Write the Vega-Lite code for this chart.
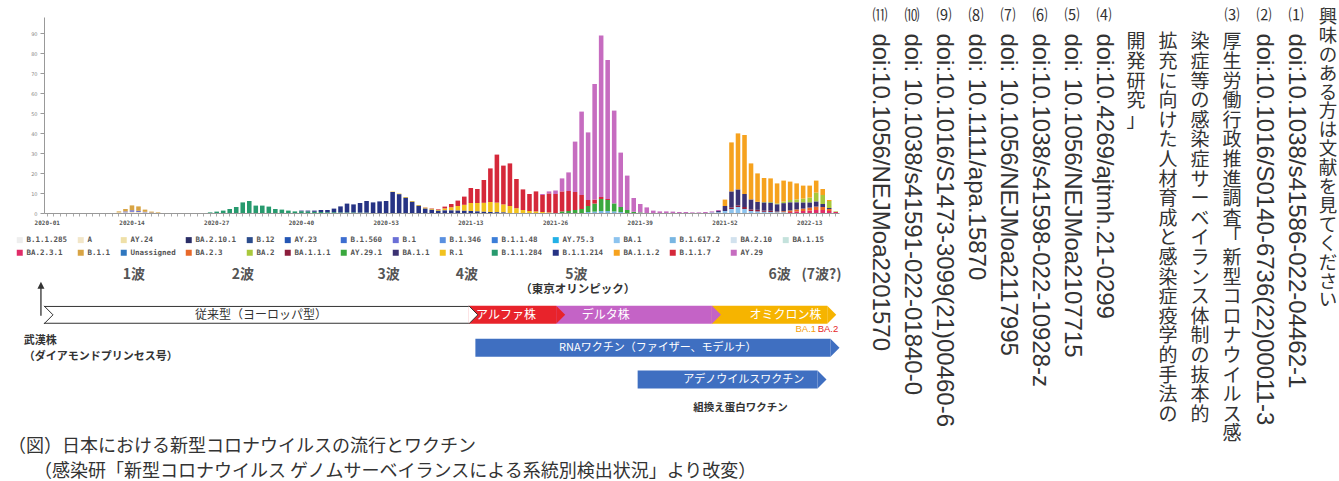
{
  "$schema": "https://vega.github.io/schema/vega-lite/v6.json",
  "background": "white",
  "padding": {"left": 8, "top": 5, "right": 0, "bottom": 0},
  "config": {"view": {"stroke": null}, "font": "Noto Sans CJK JP"},
  "datasets": {
    "weeks": [
      {"w":"2020-01","A":0},{"w":"2020-02","A":0},{"w":"2020-03","A":0},{"w":"2020-04","A":0},{"w":"2020-05","A":0},{"w":"2020-06","A":0},{"w":"2020-07","A":0},{"w":"2020-08","A":0},{"w":"2020-09","A":0},{"w":"2020-10","A":0},{"w":"2020-11","A":0},
      {"w":"2020-12","A":0.3,"B.1.1":0.5},
      {"w":"2020-13","A":0.3,"B.1":0.5,"B.1.1":1.2},
      {"w":"2020-14","A":0.6,"B.1":0.8,"B.1.1":2.4},
      {"w":"2020-15","A":0.5,"B.1":0.6,"B.1.1":2.2},
      {"w":"2020-16","A":0.3,"B.1":0.3,"B.1.1":1.1},
      {"w":"2020-17","B.1":0.2,"B.1.1":0.5},
      {"w":"2020-18","B.1.1":0.3},
      {"w":"2020-19","A":0},{"w":"2020-20","A":0},{"w":"2020-21","A":0},{"w":"2020-22","A":0},{"w":"2020-23","A":0},{"w":"2020-24","A":0},{"w":"2020-25","A":0},
      {"w":"2020-26","B.1.1.284":0.3},
      {"w":"2020-27","B.1.1.284":0.7},
      {"w":"2020-28","B.1.1.284":1.2},
      {"w":"2020-29","B.1.1.284":2.0},
      {"w":"2020-30","B.1.1.284":3.0},
      {"w":"2020-31","B.1.1.284":5.3},
      {"w":"2020-32","B.1.1.284":6.0},
      {"w":"2020-33","B.1.1.284":3.7},
      {"w":"2020-34","B.1.1.284":3.7},
      {"w":"2020-35","B.1.1.284":3.2},
      {"w":"2020-36","B.1.1.284":2.0},
      {"w":"2020-37","B.1.1.284":1.7},
      {"w":"2020-38","B.1.1.284":1.2},
      {"w":"2020-39","B.1.1.284":0.8},
      {"w":"2020-40","B.1.1.284":0.9,"B.1.1.214":0.3},
      {"w":"2020-41","B.1.1.284":0.8,"B.1.1.214":0.4},
      {"w":"2020-42","B.1.1.284":0.6,"B.1.1.214":0.6},
      {"w":"2020-43","B.1.1.284":0.5,"B.1.1.214":1.0},
      {"w":"2020-44","B.1.1.284":0.4,"B.1.1.214":1.1},
      {"w":"2020-45","B.1.1.284":0.4,"B.1.1.214":1.8},
      {"w":"2020-46","B.1.1.284":0.3,"B.1.1.214":3.0},
      {"w":"2020-47","B.1.1.284":0.3,"B.1.1.214":4.4},
      {"w":"2020-48","B.1.1.284":0.3,"B.1.1.214":4.0},
      {"w":"2020-49","B.1.1.284":0.2,"B.1.1.214":4.8},
      {"w":"2020-50","B.1.1.284":0.2,"B.1.1.214":5.8},
      {"w":"2020-51","B.1.1.214":5.3},
      {"w":"2020-52","B.1.1.214":5.8},
      {"w":"2020-53","B.1.1.214":6.0},
      {"w":"2021-01","B.1.1.214":10.5,"R.1":0.2},
      {"w":"2021-02","B.1.1.214":9.4,"R.1":0.3},
      {"w":"2021-03","B.1.1.214":7.6,"R.1":0.4},
      {"w":"2021-04","B.1.1.214":5.6,"R.1":0.4},
      {"w":"2021-05","B.1.1.214":3.6,"R.1":0.4},
      {"w":"2021-06","B.1.1.214":2.2,"R.1":0.5,"B.1.1.7":0.1},
      {"w":"2021-07","B.1.1.214":1.6,"R.1":0.5,"B.1.1.7":0.2},
      {"w":"2021-08","B.1.1.214":1.1,"R.1":0.5,"B.1.1.7":0.3},
      {"w":"2021-09","B.1.1.214":1.3,"R.1":1.0,"B.1.1.7":0.9},
      {"w":"2021-10","B.1.1.214":1.3,"R.1":1.6,"B.1.1.7":1.6},
      {"w":"2021-11","B.1.1.214":1.2,"R.1":2.3,"B.1.1.7":2.7},
      {"w":"2021-12","B.1.1.214":1.1,"R.1":3.0,"B.1.1.7":4.1},
      {"w":"2021-13","B.1.1.214":1.0,"R.1":4.0,"B.1.1.7":7.5},
      {"w":"2021-14","B.1.1.214":0.8,"R.1":4.2,"B.1.1.7":7.0},
      {"w":"2021-15","B.1.1.214":0.6,"R.1":4.5,"B.1.1.7":11.4},
      {"w":"2021-16","B.1.1.214":0.5,"R.1":5.0,"B.1.1.7":16.8},
      {"w":"2021-17","B.1.1.214":0.4,"R.1":4.8,"B.1.1.7":24.0},
      {"w":"2021-18","B.1.1.214":0.3,"R.1":4.0,"B.1.1.7":19.4},
      {"w":"2021-19","R.1":3.5,"B.1.1.7":21.3},
      {"w":"2021-20","R.1":2.4,"B.1.1.7":14.6},
      {"w":"2021-21","R.1":1.5,"B.1.1.7":10.3},
      {"w":"2021-22","R.1":1.0,"B.1.1.7":8.5},
      {"w":"2021-23","R.1":0.8,"B.1.1.7":10.0},
      {"w":"2021-24","R.1":0.5,"B.1.1.7":8.5,"AY.29":0.5},
      {"w":"2021-25","R.1":0.3,"B.1.1.7":9.5,"AY.29":1.0},
      {"w":"2021-26","B.1.1.7":9.5,"AY.29":1.7},
      {"w":"2021-27","B.1.1.7":10,"AY.29.1":0.8,"AY.29":6.5},
      {"w":"2021-28","B.1.1.7":10,"AY.29.1":1.0,"AY.29":9.3},
      {"w":"2021-29","B.1.1.7":9,"AY.29.1":1.5,"AY.29":25.2},
      {"w":"2021-30","B.1.1.7":7,"AY.29.1":2,"AY.29":41.7},
      {"w":"2021-31","B.1.1.7":3,"AY.29.1":3,"B.1.617.2":0.5,"AY.29":33.8},
      {"w":"2021-32","B.1.1.7":2,"AY.29.1":4,"B.1.617.2":0.7,"AY.29":57.8},
      {"w":"2021-33","B.1.1.7":1,"AY.29.1":6,"B.1.617.2":1,"AY.29":80.7},
      {"w":"2021-34","B.1.1.7":0.5,"AY.29.1":5.5,"B.1.617.2":1,"AY.29":69.5},
      {"w":"2021-35","AY.29.1":4,"B.1.617.2":0.8,"AY.29":46.4},
      {"w":"2021-36","AY.29.1":2.5,"B.1.617.2":0.5,"AY.29":27.2},
      {"w":"2021-37","AY.29.1":1.5,"AY.29":17.2},
      {"w":"2021-38","AY.29.1":0.6,"AY.29":6.9},
      {"w":"2021-39","AY.29.1":0.3,"AY.29":4.2},
      {"w":"2021-40","AY.29":2.8},
      {"w":"2021-41","AY.29":1.2},
      {"w":"2021-42","AY.29":0.8},
      {"w":"2021-43","AY.29":0.8},
      {"w":"2021-44","AY.29":0.7},
      {"w":"2021-45","AY.29":0.5},
      {"w":"2021-46","AY.29":0.5},
      {"w":"2021-47","AY.29":0.3},
      {"w":"2021-48","AY.29":0.3},
      {"w":"2021-49","AY.29":0.5},
      {"w":"2021-50","AY.29":0.5,"BA.1":0.3},
      {"w":"2021-51","AY.29":0.5,"BA.1":0.4,"BA.1.1":0.6},
      {"w":"2021-52","BA.1":1,"BA.1.1":2.5,"BA.1.1.2":3.2},
      {"w":"2022-01","BA.1":2,"BA.1.1":8,"BA.1.1.1":0.8,"BA.1.1.2":24.5},
      {"w":"2022-02","BA.1":3,"BA.1.1":8,"BA.1.1.1":0.8,"BA.1.1.2":28},
      {"w":"2022-03","BA.1":2,"BA.1.1":6.5,"BA.1.1.1":1,"BA.1.1.2":29.5},
      {"w":"2022-04","BA.1":1,"BA.1.1":5,"BA.1.1.1":0.8,"BA.1.1.2":18},
      {"w":"2022-05","BA.1":0.8,"BA.1.1":4,"BA.1.1.1":0.8,"BA.1.1.2":14.2},
      {"w":"2022-06","BA.1":0.6,"BA.1.1":4,"BA.1.1.1":0.6,"BA.2":0.3,"BA.1.1.2":12},
      {"w":"2022-07","BA.1":0.5,"BA.1.1":4,"BA.1.1.1":0.6,"BA.2":0.4,"BA.1.1.2":11.8},
      {"w":"2022-08","BA.1":0.4,"BA.1.1":3.6,"BA.2":0.5,"BA.2.3":0.3,"BA.1.1.2":10},
      {"w":"2022-09","BA.1":0.4,"BA.1.1":4,"BA.2":0.8,"BA.2.3":0.5,"BA.1.1.2":10.5},
      {"w":"2022-10","BA.1.1":4,"BA.2":1.2,"BA.2.3":0.8,"BA.2.3.1":0.5,"BA.1.1.2":9.2},
      {"w":"2022-11","BA.1.1":3.5,"BA.2":1.5,"BA.2.3":1,"BA.2.3.1":0.8,"BA.1.1.2":8},
      {"w":"2022-12","BA.1.1":3,"BA.2":2,"BA.2.3":1.2,"BA.2.3.1":1,"BA.1.1.2":6.5},
      {"w":"2022-13","BA.1.1":2.5,"BA.2":2.5,"BA.2.3":1.5,"BA.2.3.1":1.2,"BA.1.1.2":6},
      {"w":"2022-14","BA.1.1":2.5,"BA.2":4.5,"BA.2.3":1.7,"BA.2.3.1":1.5,"BA.1.1.2":6},
      {"w":"2022-15","BA.1.1":1.5,"BA.2":4.5,"BA.2.3":1.5,"BA.2.3.1":1.5,"BA.1.1.2":3},
      {"w":"2022-16","BA.1.1":0.5,"BA.2":3.5,"BA.2.3":1,"BA.2.3.1":1,"BA.1.1.2":0.5},
      {"w":"2022-17","BA.2.3.1":0.5,"BA.2":0.3}
    ],
    "labels": [
      {"kind":"wave","t":"1波","wk":14.3},
      {"kind":"wave","t":"2波","wk":31},
      {"kind":"wave","t":"3波","wk":53.4},
      {"kind":"wave","t":"4波","wk":65.4},
      {"kind":"wave","t":"5波","wk":82.2},
      {"kind":"wave","t":"6波","wk":113.4},
      {"kind":"wave","t":"(7波?)","wk":119.8},
      {"kind":"olympic","t":"（東京オリンピック）","wk":82.4},
      {"kind":"marker","t":"","wk":0.03},
      {"kind":"origin","t":"武漢株\n（ダイアモンドプリンセス号）","wk":-2.6},
      {"kind":"ba","t":"BA.1","wk":117.4},
      {"kind":"ba","t":"BA.2","wk":120.8},
      {"kind":"protein","t":"組換え蛋白ワクチン","wk":107.4}
    ],
    "arrows": [
      {"kind":"strain","label":"従来型（ヨーロッパ型）","from":0.5,"to":65.7,"at":33.8},
      {"kind":"strain","label":"アルファ株","from":65.7,"to":79.1,"at":71.4},
      {"kind":"strain","label":"デルタ株","from":79.1,"to":103,"at":86.7},
      {"kind":"strain","label":"オミクロン株","from":103,"to":120.7,"at":114.3},
      {"kind":"rna","label":"RNAワクチン（ファイザー、モデルナ）","from":66.7,"to":121.2,"at":94.7},
      {"kind":"adeno","label":"アデノウイルスワクチン","from":91.6,"to":119.2,"at":107.9}
    ],
    "refs": [
      {"c":0,"jp":"興味のある方は文献を見てください"},
      {"c":1,"no":"⑴","doi":"doi:10.1038/s41586-022-04462-1"},
      {"c":2,"no":"⑵","doi":"doi:10.1016/S0140-6736(22)00011-3"},
      {"c":3,"no":"⑶","jp":"厚生労働行政推進調査「新型コロナウイルス感"},
      {"c":4,"jp":"染症等の感染症サーベイランス体制の抜本的"},
      {"c":5,"jp":"拡充に向けた人材育成と感染症疫学的手法の"},
      {"c":6,"jp":"開発研究」"},
      {"c":7,"no":"⑷","doi":"doi:10.4269/ajtmh.21-0299"},
      {"c":8,"no":"⑸","doi":"doi: 10.1056/NEJMoa2107715"},
      {"c":9,"no":"⑹","doi":"doi:10.1038/s41598-022-10928-z"},
      {"c":10,"no":"⑺","doi":"doi: 10.1056/NEJMoa2117995"},
      {"c":11,"no":"⑻","doi":"doi: 10.1111/apa.15870"},
      {"c":12,"no":"⑼","doi":"doi:10.1016/S1473-3099(21)00460-6"},
      {"c":13,"no":"⑽","doi":"doi: 10.1038/s41591-022-01840-0"},
      {"c":14,"no":"⑾","doi":"doi:10.1056/NEJMoa2201570"}
    ]
  },
  "spacing": 22,
  "resolve": {"scale": {"x": "independent", "y": "independent", "color": "independent"}},
  "hconcat": [
    {
      "bounds": "flush",
      "spacing": 49,
      "resolve": {"scale": {"x": "independent", "y": "independent", "color": "independent"}, "legend": {"color": "independent"}},
      "title": {
        "text": ["（図）日本における新型コロナウイルスの流行とワクチン", "\u200b\u3000\u00a0\u00a0（感染研「新型コロナウイルス ゲノムサーベイランスによる系統別検出状況」より改変）"],
        "orient": "bottom", "anchor": "start", "frame": "bounds",
        "font": "Noto Sans CJK JP", "fontSize": 18, "fontWeight": "normal", "color": "#333",
        "lineHeight": 25, "offset": 16, "dx": -8
      },
      "vconcat": [
        {
          "width": 795,
          "height": 208,
          "data": {"name": "weeks"},
          "transform": [
            {"fold": ["B\\.1\\.1\\.285","A","AY\\.24","BA\\.2\\.10\\.1","B\\.12","AY\\.23","B\\.1\\.560","B\\.1","B\\.1\\.346","B\\.1\\.1\\.48","AY\\.75\\.3","BA\\.1","B\\.1\\.617\\.2","BA\\.2\\.10","BA\\.1\\.15","BA\\.2\\.3\\.1","B\\.1\\.1","Unassigned","BA\\.2\\.3","BA\\.2","BA\\.1\\.1\\.1","AY\\.29\\.1","BA\\.1\\.1","R\\.1","B\\.1\\.1\\.284","B\\.1\\.1\\.214","BA\\.1\\.1\\.2","B\\.1\\.1\\.7","AY\\.29"], "as": ["lineage", "count"]},
            {"filter": "isValid(datum.count)"},
            {"calculate": "indexof(['BA.1','B.1.617.2','AY.75.3','BA.1.15','BA.2.10','B.1.1.285','A','B.1','B.1.1','B.1.346','B.1.1.48','B.1.560','B.1.1.284','B.1.1.214','R.1','AY.29.1','B.1.1.7','AY.24','AY.23','B.12','Unassigned','BA.1.1.1','BA.2.3.1','BA.2.3','BA.2.10.1','BA.1.1','BA.2','AY.29','BA.1.1.2'], datum.lineage)", "as": "ord"}
          ],
          "mark": {"type": "bar"},
          "encoding": {
            "x": {
              "field": "w", "type": "ordinal",
              "scale": {"paddingInner": 0.3, "paddingOuter": 0.15},
              "axis": {
                "title": null, "labelAngle": 0,
                "labelExpr": "((slice(datum.value,0,4)=='2020'?0:(slice(datum.value,0,4)=='2021'?53:105))+toNumber(slice(datum.value,5))-1)%13==0?datum.value:''",
                "labelFont": "DejaVu Sans Mono", "labelFontSize": 6, "labelFontWeight": "bold", "labelColor": "#555",
                "labelOverlap": false, "labelPadding": 3,
                "tickSize": 3, "tickColor": "#aaa", "domainColor": "#999"
              }
            },
            "y": {
              "field": "count", "type": "quantitative", "stack": "zero",
              "scale": {"domain": [0, 98], "range": [208, 12], "nice": false},
              "axis": {
                "title": null, "values": [0,10,20,30,40,50,60,70,80,90], "grid": false,
                "labelFont": "DejaVu Sans", "labelFontSize": 5, "labelColor": "#888", "labelPadding": 3,
                "tickSize": 4, "tickColor": "#999", "domainColor": "#999"
              }
            },
            "color": {
              "field": "lineage", "type": "nominal",
              "scale": {
                "domain": ["B.1.1.285","A","AY.24","BA.2.10.1","B.12","AY.23","B.1.560","B.1","B.1.346","B.1.1.48","AY.75.3","BA.1","B.1.617.2","BA.2.10","BA.1.15","BA.2.3.1","B.1.1","Unassigned","BA.2.3","BA.2","BA.1.1.1","AY.29.1","BA.1.1","R.1","B.1.1.284","B.1.1.214","BA.1.1.2","B.1.1.7","AY.29"],
                "range": ["#eeeeee","#f2e6c8","#efe0a8","#2a2d66","#2b4c8c","#2456b4","#3d6ed0","#6a6fd6","#5a90e0","#3c7ed8","#22b0e6","#8cc3ee","#78b6e2","#d2e2ee","#c4e2dc","#e02c68","#d8a444","#2f77bf","#e8692a","#a9c83c","#8c1d3c","#3aa83e","#3b3272","#f2c21e","#279a6e","#263384","#f6a21e","#d5283a","#c66cc0"]
              },
              "legend": {
                "orient": "none", "legendX": -28, "legendY": 231,
                "direction": "horizontal", "columns": 15, "title": null,
                "symbolType": "square", "symbolSize": 36, "symbolStrokeWidth": 0,
                "labelFont": "DejaVu Sans Mono", "labelFontSize": 7.5, "labelFontWeight": "bold", "labelColor": "#555",
                "columnPadding": 9, "rowPadding": 4, "labelOffset": 3
              }
            },
            "order": {"field": "ord", "type": "quantitative"}
          }
        },
        {
          "width": 795,
          "height": 160,
          "layer": [
            {
              "data": {"name": "labels"},
              "transform": [{"filter": "datum.kind=='wave'"}],
              "mark": {"type": "text", "fontSize": 14, "fontWeight": "bold", "color": "#555", "baseline": "middle"},
              "encoding": {
                "x": {"field": "wk", "type": "quantitative", "scale": {"domain": [0.5, 122.5], "zero": false, "nice": false}, "axis": null},
                "y": {"datum": 0, "type": "quantitative", "scale": {"domain": [-0.5, 9.5], "reverse": true, "zero": false, "nice": false}, "axis": null},
                "text": {"field": "t"}
              }
            },
            {
              "data": {"name": "labels"},
              "transform": [{"filter": "datum.kind=='olympic'"}],
              "mark": {"type": "text", "fontSize": 11.5, "fontWeight": "bold", "color": "#333", "baseline": "middle"},
              "encoding": {
                "x": {"field": "wk", "type": "quantitative", "scale": {"domain": [0.5, 122.5], "zero": false, "nice": false}, "axis": null},
                "y": {"datum": 1, "type": "quantitative", "scale": {"domain": [-0.5, 9.5], "reverse": true, "zero": false, "nice": false}, "axis": null},
                "text": {"field": "t"}
              }
            },
            {
              "data": {"name": "labels"},
              "transform": [{"filter": "datum.kind=='marker'"}],
              "layer": [
                {
                  "mark": {"type": "rule", "color": "#333", "strokeWidth": 1.3},
                  "encoding": {
                    "x": {"field": "wk", "type": "quantitative", "scale": {"domain": [0.5, 122.5], "zero": false, "nice": false}, "axis": null},
                    "y": {"datum": 0.85, "type": "quantitative", "scale": {"domain": [-0.5, 9.5], "reverse": true, "zero": false, "nice": false}, "axis": null},
                    "y2": {"datum": 2.75}
                  }
                },
                {
                  "mark": {"type": "point", "shape": "M-1,1L0,-1L1,1Z", "size": 49, "filled": true, "color": "#333", "opacity": 1},
                  "encoding": {
                    "x": {"field": "wk", "type": "quantitative", "scale": {"domain": [0.5, 122.5], "zero": false, "nice": false}, "axis": null},
                    "y": {"datum": 0.72, "type": "quantitative", "scale": {"domain": [-0.5, 9.5], "reverse": true, "zero": false, "nice": false}, "axis": null}
                  }
                }
              ]
            },
            {
              "data": {"name": "arrows"},
              "transform": [{"filter": "datum.kind=='strain'"}],
              "encoding": {
                "y": {"datum": 2.69, "type": "quantitative", "scale": {"domain": [-0.5, 9.5], "reverse": true, "zero": false, "nice": false}, "axis": null}
              },
              "layer": [
                {
                  "mark": {"type": "bar", "orient": "horizontal", "size": 18},
                  "encoding": {
                    "x": {"field": "from", "type": "quantitative", "scale": {"domain": [0.5, 122.5], "zero": false, "nice": false}, "axis": null},
                    "x2": {"field": "to"},
                    "color": {"field": "label", "type": "nominal", "legend": null,
                      "scale": {"domain": ["従来型（ヨーロッパ型）","アルファ株","デルタ株","オミクロン株","RNAワクチン（ファイザー、モデルナ）","アデノウイルスワクチン","BA.1","BA.2"],
                                "range": ["#ffffff","#e8232b","#c463c6","#f6b400","#3f6fc1","#3f6fc1","#f5a00a","#e5261f"]}}
                  }
                },
                {
                  "transform": [{"filter": "datum.label!='従来型（ヨーロッパ型）'"}],
                  "mark": {"type": "point", "shape": "M0,-1L1,0L0,1Z", "size": 324, "filled": true, "opacity": 1},
                  "encoding": {
                    "x": {"field": "to", "type": "quantitative", "scale": {"domain": [0.5, 122.5], "zero": false, "nice": false}, "axis": null},
                    "color": {"field": "label", "type": "nominal", "legend": null}
                  }
                },
                {
                  "transform": [{"filter": "datum.label=='従来型（ヨーロッパ型）'"}],
                  "layer": [
                    {
                      "mark": {"type": "rule", "color": "#333", "strokeWidth": 1},
                      "encoding": {
                        "x": {"field": "from", "type": "quantitative", "scale": {"domain": [0.5, 122.5], "zero": false, "nice": false}, "axis": null},
                        "x2": {"field": "to"},
                        "y": {"datum": 2.13, "type": "quantitative", "scale": {"domain": [-0.5, 9.5], "reverse": true, "zero": false, "nice": false}, "axis": null}
                      }
                    },
                    {
                      "mark": {"type": "rule", "color": "#333", "strokeWidth": 1},
                      "encoding": {
                        "x": {"field": "from", "type": "quantitative", "scale": {"domain": [0.5, 122.5], "zero": false, "nice": false}, "axis": null},
                        "x2": {"field": "to"},
                        "y": {"datum": 3.25, "type": "quantitative", "scale": {"domain": [-0.5, 9.5], "reverse": true, "zero": false, "nice": false}, "axis": null}
                      }
                    },
                    {
                      "mark": {"type": "point", "shape": "M0,-1L1,0L0,1", "size": 324, "filled": false, "stroke": "#333", "strokeWidth": 1, "opacity": 1},
                      "encoding": {
                        "x": {"field": "from", "type": "quantitative", "scale": {"domain": [0.5, 122.5], "zero": false, "nice": false}, "axis": null}
                      }
                    },
                    {
                      "mark": {"type": "point", "shape": "M0,-1L1,0L0,1", "size": 324, "filled": true, "fill": "#ffffff", "stroke": "#333", "strokeWidth": 1, "opacity": 1},
                      "encoding": {
                        "x": {"field": "to", "type": "quantitative", "scale": {"domain": [0.5, 122.5], "zero": false, "nice": false}, "axis": null}
                      }
                    }
                  ]
                },
                {
                  "mark": {"type": "text", "fontSize": 12, "baseline": "middle"},
                  "encoding": {
                    "x": {"field": "at", "type": "quantitative", "scale": {"domain": [0.5, 122.5], "zero": false, "nice": false}, "axis": null},
                    "text": {"field": "label"},
                    "color": {"condition": {"test": "datum.label=='従来型（ヨーロッパ型）'", "value": "#333"}, "value": "#ffffff"}
                  }
                }
              ]
            },
            {
              "data": {"name": "labels"},
              "transform": [{"filter": "datum.kind=='ba'"}],
              "mark": {"type": "text", "fontSize": 9.5, "font": "Liberation Sans", "baseline": "middle"},
              "encoding": {
                "x": {"field": "wk", "type": "quantitative", "scale": {"domain": [0.5, 122.5], "zero": false, "nice": false}, "axis": null},
                "y": {"datum": 3.63, "type": "quantitative", "scale": {"domain": [-0.5, 9.5], "reverse": true, "zero": false, "nice": false}, "axis": null},
                "text": {"field": "t"},
                "color": {"field": "t", "type": "nominal", "legend": null}
              }
            },
            {
              "data": {"name": "labels"},
              "transform": [{"filter": "datum.kind=='origin'"}],
              "mark": {"type": "text", "fontSize": 11, "fontWeight": "bold", "color": "#333", "align": "left", "baseline": "top", "lineBreak": "\n", "lineHeight": 16},
              "encoding": {
                "x": {"field": "wk", "type": "quantitative", "scale": {"domain": [0.5, 122.5], "zero": false, "nice": false}, "axis": null},
                "y": {"datum": 4.0, "type": "quantitative", "scale": {"domain": [-0.5, 9.5], "reverse": true, "zero": false, "nice": false}, "axis": null},
                "text": {"field": "t"}
              }
            },
            {
              "data": {"name": "arrows"},
              "transform": [{"filter": "datum.kind=='rna'"}],
              "encoding": {
                "y": {"datum": 4.88, "type": "quantitative", "scale": {"domain": [-0.5, 9.5], "reverse": true, "zero": false, "nice": false}, "axis": null}
              },
              "layer": [
                {
                  "mark": {"type": "bar", "orient": "horizontal", "size": 18},
                  "encoding": {
                    "x": {"field": "from", "type": "quantitative", "scale": {"domain": [0.5, 122.5], "zero": false, "nice": false}, "axis": null},
                    "x2": {"field": "to"},
                    "color": {"field": "label", "type": "nominal", "legend": null}
                  }
                },
                {
                  "mark": {"type": "point", "shape": "M0,-1L1,0L0,1Z", "size": 324, "filled": true, "opacity": 1},
                  "encoding": {
                    "x": {"field": "to", "type": "quantitative", "scale": {"domain": [0.5, 122.5], "zero": false, "nice": false}, "axis": null},
                    "color": {"field": "label", "type": "nominal", "legend": null}
                  }
                },
                {
                  "mark": {"type": "text", "fontSize": 11, "color": "#ffffff", "baseline": "middle"},
                  "encoding": {
                    "x": {"field": "at", "type": "quantitative", "scale": {"domain": [0.5, 122.5], "zero": false, "nice": false}, "axis": null},
                    "text": {"field": "label"}
                  }
                }
              ]
            },
            {
              "data": {"name": "arrows"},
              "transform": [{"filter": "datum.kind=='adeno'"}],
              "encoding": {
                "y": {"datum": 7.0, "type": "quantitative", "scale": {"domain": [-0.5, 9.5], "reverse": true, "zero": false, "nice": false}, "axis": null}
              },
              "layer": [
                {
                  "mark": {"type": "bar", "orient": "horizontal", "size": 18},
                  "encoding": {
                    "x": {"field": "from", "type": "quantitative", "scale": {"domain": [0.5, 122.5], "zero": false, "nice": false}, "axis": null},
                    "x2": {"field": "to"},
                    "color": {"field": "label", "type": "nominal", "legend": null}
                  }
                },
                {
                  "mark": {"type": "point", "shape": "M0,-1L1,0L0,1Z", "size": 324, "filled": true, "opacity": 1},
                  "encoding": {
                    "x": {"field": "to", "type": "quantitative", "scale": {"domain": [0.5, 122.5], "zero": false, "nice": false}, "axis": null},
                    "color": {"field": "label", "type": "nominal", "legend": null}
                  }
                },
                {
                  "mark": {"type": "text", "fontSize": 11, "color": "#ffffff", "baseline": "middle"},
                  "encoding": {
                    "x": {"field": "at", "type": "quantitative", "scale": {"domain": [0.5, 122.5], "zero": false, "nice": false}, "axis": null},
                    "text": {"field": "label"}
                  }
                }
              ]
            },
            {
              "data": {"name": "labels"},
              "transform": [{"filter": "datum.kind=='protein'"}],
              "mark": {"type": "text", "fontSize": 10.5, "fontWeight": "bold", "color": "#333", "baseline": "middle"},
              "encoding": {
                "x": {"field": "wk", "type": "quantitative", "scale": {"domain": [0.5, 122.5], "zero": false, "nice": false}, "axis": null},
                "y": {"datum": 8.88, "type": "quantitative", "scale": {"domain": [-0.5, 9.5], "reverse": true, "zero": false, "nice": false}, "axis": null},
                "text": {"field": "t"}
              }
            }
          ]
        }
      ]
    },
    {
      "width": 480,
      "height": 470,
      "data": {"name": "refs"},
      "encoding": {
        "x": {"field": "c", "type": "quantitative", "scale": {"domain": [-0.5, 14.5], "reverse": true, "zero": false, "nice": false}, "axis": null}
      },
      "layer": [
        {
          "transform": [{"filter": "isValid(datum.no)"}],
          "mark": {"type": "text", "fontSize": 15, "color": "#333", "baseline": "top", "align": "center"},
          "encoding": {
            "y": {"datum": 0.15, "type": "quantitative", "scale": {"domain": [0, 24], "reverse": true, "zero": false, "nice": false}, "axis": null},
            "text": {"field": "no"}
          }
        },
        {
          "transform": [{"filter": "isValid(datum.doi)"}],
          "mark": {"type": "text", "fontSize": 24, "font": "Liberation Sans", "color": "#333", "angle": 90, "align": "left", "baseline": "middle"},
          "encoding": {
            "y": {"datum": 1.45, "type": "quantitative", "scale": {"domain": [0, 24], "reverse": true, "zero": false, "nice": false}, "axis": null},
            "text": {"field": "doi"}
          }
        },
        {
          "transform": [{"filter": "isValid(datum.jp) && datum.c == 0"}, {"calculate": "split(datum.jp, '')", "as": "chars"}],
          "mark": {"type": "text", "fontSize": 18.5, "lineHeight": 18.9, "color": "#333", "baseline": "top", "align": "center"},
          "encoding": {
            "y": {"datum": 0.15, "type": "quantitative", "scale": {"domain": [0, 24], "reverse": true, "zero": false, "nice": false}, "axis": null},
            "text": {"field": "chars"}
          }
        },
        {
          "transform": [{"filter": "isValid(datum.jp) && datum.c > 0"}, {"calculate": "split(datum.jp, '')", "as": "chars"}],
          "mark": {"type": "text", "fontSize": 19, "lineHeight": 19.6, "color": "#333", "baseline": "top", "align": "center"},
          "encoding": {
            "y": {"datum": 1.45, "type": "quantitative", "scale": {"domain": [0, 24], "reverse": true, "zero": false, "nice": false}, "axis": null},
            "text": {"field": "chars"}
          }
        }
      ]
    }
  ]
}
